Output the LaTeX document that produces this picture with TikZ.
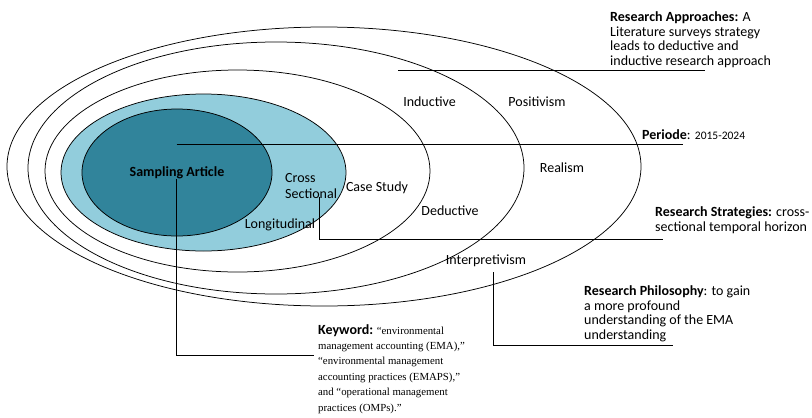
\documentclass[tikz,border=0pt]{standalone}
\usepackage{fontspec}
\setmainfont{Carlito}
\newfontfamily\serifkw{Liberation Serif}
\definecolor{darkteal}{HTML}{31849B}
\definecolor{lightblue}{HTML}{92CDDC}
\begin{document}
\begin{tikzpicture}[x=1pt,y=-1pt,
  ring/.style={draw=black, line width=0.75pt},
  lbl/.style={inner sep=0pt, anchor=base, font=\fontsize{14}{14.6}\selectfont},
  note/.style={inner sep=0pt, align=left, anchor=north west, font=\fontsize{14}{14.6}\selectfont},
  conn/.style={draw=black, line width=0.8pt}]
\useasboundingbox (0,0) rectangle (812,418);
% rings
\draw[ring] (324,166.5) ellipse [x radius=317pt, y radius=139.5pt];
\draw[ring] (276,168) ellipse [x radius=248pt, y radius=126pt];
\draw[ring] (237.5,171) ellipse [x radius=192.5pt, y radius=101pt];
\draw[ring, fill=lightblue] (203.5,172.5) ellipse [x radius=142.5pt, y radius=78.5pt];
\draw[ring, fill=darkteal] (177,172.5) ellipse [x radius=95pt, y radius=63.5pt];
% ring labels
\node[lbl, font={\fontsize{14}{14.6}\selectfont\bfseries}] (samp) at (177,176.5) {Sampling Article};
\node[inner sep=0pt, align=left, anchor=north west, font=\fontsize{14}{15.3}\selectfont] (cross) at (285,173.5) {Cross\\Sectional};
\node[lbl] (long) at (280,228.5) {Longitudinal};
\node[lbl] (case) at (377,191.5) {Case Study};
\node[lbl] (induc) at (429.5,106.5) {Inductive};
\node[lbl] (deduc) at (450,215.5) {Deductive};
\node[lbl] (posit) at (537,106.5) {Positivism};
\node[lbl] (real) at (562,172.5) {Realism};
\node[lbl] (interp) at (486,264.5) {Interpretivism};
% notes
\node[note] (appr) at (610,11.5) {\textbf{Research Approaches:} A\\Literature surveys strategy\\leads to deductive and\\inductive research approach};
\node[inner sep=0pt, anchor=base west, font=\fontsize{14}{14.6}\selectfont] (per) at (642,139.5) {\textbf{Periode}: {\fontsize{11.5}{13}\selectfont 2015-2024}};
\node[note] (strat) at (655,206.5) {\textbf{Research Strategies:} cross-\\sectional temporal horizon};
\node[note] (phil) at (584,285.5) {\textbf{Research Philosophy}: to gain\\a more profound\\understanding of the EMA\\understanding};
\node[inner sep=0pt, align=left, anchor=north west, font=\serifkw\fontsize{10.8}{15.4}\selectfont] (kw) at (318,324) {{\rmfamily\fontsize{14}{15.4}\selectfont\bfseries Keyword:} “environmental\\management accounting (EMA),”\\“environmental management\\accounting practices (EMAPS),”\\and “operational management\\practices (OMPs).”};
% connectors
\coordinate (ra1) at (398,70.5);
\coordinate (ra2) at (705,70.5);
\draw[conn] (ra1) -- (ra2);
\coordinate (pe1) at (176.5,144.3);
\coordinate (pe2) at (683,144.3);
\draw[conn] (pe1) -- (pe2);
\coordinate (kw1) at (176.5,179);
\coordinate (kw2) at (314,355.5);
\draw[conn] (kw1) |- (kw2);
\coordinate (st1) at (319,196.5);
\coordinate (st2) at (663,239.5);
\draw[conn] (st1) |- (st2);
\coordinate (ph1) at (493,272);
\coordinate (ph2) at (673,345);
\draw[conn] (ph1) |- (ph2);
\end{tikzpicture}
\end{document}
